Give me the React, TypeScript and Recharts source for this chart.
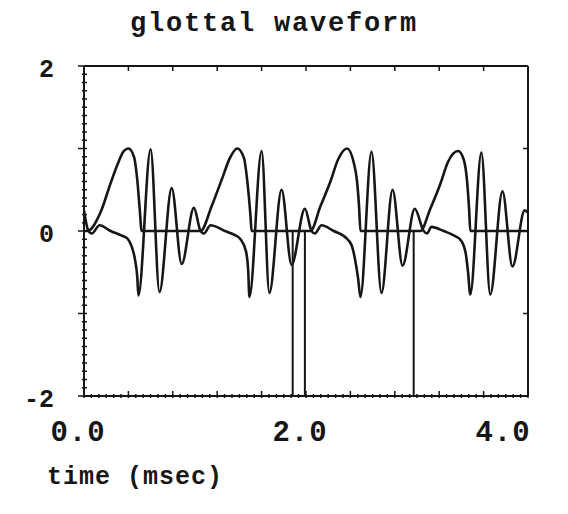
import { LineChart, Line, XAxis, YAxis } from "recharts";

const INK = "#161616";
const FONT = "'Liberation Mono', 'DejaVu Sans Mono', monospace";

// glottal flow pulse: [time ms, amplitude]
const flowPulse: [number, number][] = [
  [0, 0], [0.03, 0], [0.15, 0.23], [0.24, 0.58], [0.3, 0.8], [0.36, 0.97], [0.4, 1.0], [0.45, 0.9], [0.48, 0.62], [0.5, 0.3], [0.52, 0],
  [1.05, 0], [1.15, 0.3], [1.24, 0.62], [1.32, 0.9], [1.38, 1.0], [1.44, 0.89], [1.47, 0.62], [1.5, 0.18], [1.51, 0],
  [2.04, 0], [2.13, 0.3], [2.22, 0.6], [2.29, 0.87], [2.37, 1.0], [2.43, 0.83], [2.46, 0.6], [2.48, 0.25], [2.49, 0],
  [3.03, 0], [3.12, 0.27], [3.21, 0.57], [3.28, 0.84], [3.37, 0.97], [3.42, 0.87], [3.45, 0.62], [3.47, 0.25], [3.48, 0],
  [4.0, 0],
];

// derivative / ringing response
const ringing: [number, number][] = [
  [0, 0.25], [0.04, 0], [0.07, -0.03], [0.14, 0.07], [0.24, 0], [0.33, -0.05], [0.39, -0.09], [0.43, -0.19], [0.46, -0.35], [0.48, -0.56], [0.49, -0.78],
  [0.6, 0.99], [0.68, -0.74], [0.79, 0.52], [0.88, -0.4], [0.99, 0.28],
  [1.05, 0], [1.08, -0.03], [1.14, 0.07], [1.27, 0], [1.36, -0.05], [1.41, -0.1], [1.46, -0.25], [1.48, -0.5], [1.49, -0.8],
  [1.6, 0.97], [1.67, -0.75], [1.78, 0.5], [1.87, -0.41], [1.99, 0.27],
  [2.05, 0], [2.08, -0.03], [2.14, 0.07], [2.25, 0], [2.35, -0.07], [2.41, -0.17], [2.44, -0.33], [2.47, -0.58], [2.49, -0.8],
  [2.59, 0.96], [2.68, -0.75], [2.78, 0.5], [2.87, -0.42], [2.98, 0.27],
  [3.06, 0], [3.09, -0.03], [3.13, 0.05], [3.24, 0], [3.34, -0.06], [3.4, -0.12], [3.44, -0.28], [3.46, -0.5], [3.48, -0.77],
  [3.58, 0.95], [3.66, -0.77], [3.77, 0.48], [3.86, -0.43], [3.97, 0.25], [4.0, 0.22],
];

// plotter glitches: vertical strokes down to the bottom of the frame
const glitchTimes = [1.88, 1.99, 2.97];
const glitchFloor = -2;

const xLabelTicks = [0, 2, 4];
const yLabelTicks = [-2, 0, 2];
const topTicks = [0.4, 0.8, 1.2, 1.6, 2.0, 2.4, 2.8, 3.2, 3.6];
const rightTicks = [-1, 1];

const toPoints = (pairs: [number, number][]) => pairs.map(([t, v]) => ({ t, v }));
const flowData = toPoints(flowPulse);
const ringData = toPoints(ringing);
const glitchData = glitchTimes.flatMap((t) => [
  { t, v: 0 },
  { t, v: glitchFloor },
  { t: t + 0.001, v: null },
]);

// minor ticks: 15 per ms on x, 10 per unit on y
const bottomTicks = Array.from({ length: 61 }, (_, i) => i / 15);
const leftTicks = Array.from({ length: 41 }, (_, i) => -2 + i / 10);

const near = (a: number, b: number) => Math.abs(a - b) < 1e-6;

const BottomTick = (props: any) => {
  const { x, y, payload } = props;
  const v = payload.value;
  const major = topTicks.some((m) => near(m, v)) || near(v, 0) || near(v, 4);
  const label = xLabelTicks.find((m) => near(m, v));
  return (
    <g>
      <line x1={x} x2={x} y1={y - (major ? 5 : 2)} y2={y + 2} stroke={INK} strokeWidth={1.5} />
      {label !== undefined && (
        <text x={Math.min(x - 6, 503)} y={y + 45} textAnchor="middle" fontFamily={FONT} fontWeight="bold" fontSize={29} letterSpacing={1} fill={INK}>
          {label.toFixed(1)}
        </text>
      )}
    </g>
  );
};

const LeftTick = (props: any) => {
  const { x, y, payload } = props;
  const v = payload.value;
  const major = Number.isInteger(Math.round(v * 1e6) / 1e6);
  const label = yLabelTicks.find((m) => near(m, v));
  return (
    <g>
      <line x1={x - (major ? 6 : 2)} x2={x + 3} y1={y} y2={y} stroke={INK} strokeWidth={1.5} />
      {label !== undefined && (
        <text x={x - 30} y={y + 11} textAnchor="end" fontFamily={FONT} fontWeight="bold" fontSize={25} fill={INK}>
          {label}
        </text>
      )}
    </g>
  );
};

const TopTick = (props: any) => {
  const { x, y } = props;
  return <line x1={x} x2={x} y1={y} y2={y + 5} stroke={INK} strokeWidth={1.5} />;
};

const RightTick = (props: any) => {
  const { x, y } = props;
  return <line x1={x - 5} x2={x} y1={y} y2={y} stroke={INK} strokeWidth={1.5} />;
};

export default function App() {
  return (
    <div style={{ position: "absolute", left: 0, top: 0, width: 568, height: 514, background: "#fff" }}>
      <LineChart width={568} height={514} margin={{ top: 56, right: 30, bottom: 78, left: 44 }}>
        <XAxis
          xAxisId="b"
          type="number"
          dataKey="t"
          domain={[0, 4]}
          ticks={bottomTicks}
          interval={0}
          tickSize={0}
          tickMargin={0}
          tickLine={false}
          height={40}
          axisLine={{ stroke: INK, strokeWidth: 2 }}
          tick={BottomTick}
          allowDataOverflow
        />
        <XAxis
          xAxisId="top"
          orientation="top"
          type="number"
          dataKey="t"
          domain={[0, 4]}
          ticks={topTicks}
          interval={0}
          tickSize={0}
          tickMargin={0}
          tickLine={false}
          height={10}
          axisLine={{ stroke: INK, strokeWidth: 2 }}
          tick={TopTick}
          allowDataOverflow
        />
        <YAxis
          yAxisId="l"
          type="number"
          domain={[-2, 2]}
          ticks={leftTicks}
          interval={0}
          tickSize={0}
          tickMargin={0}
          tickLine={false}
          width={40}
          axisLine={{ stroke: INK, strokeWidth: 2 }}
          tick={LeftTick}
          allowDataOverflow
        />
        <YAxis
          yAxisId="r"
          orientation="right"
          type="number"
          domain={[-2, 2]}
          ticks={rightTicks}
          interval={0}
          tickSize={0}
          tickMargin={0}
          tickLine={false}
          width={10}
          axisLine={{ stroke: INK, strokeWidth: 2 }}
          tick={RightTick}
          allowDataOverflow
        />
        <Line xAxisId="b" yAxisId="l" data={flowData} dataKey="v" type="monotone" stroke={INK} strokeWidth={2.6} dot={false} isAnimationActive={false} />
        <Line xAxisId="b" yAxisId="l" data={ringData} dataKey="v" type="monotone" stroke={INK} strokeWidth={2.6} dot={false} isAnimationActive={false} />
        <Line xAxisId="b" yAxisId="l" data={glitchData} dataKey="v" type="linear" stroke={INK} strokeWidth={2} dot={false} connectNulls={false} isAnimationActive={false} />
      </LineChart>
      <svg width={568} height={514} style={{ position: "absolute", left: 0, top: 0, pointerEvents: "none" }}>
        <text x={274} y={31} textAnchor="middle" fontFamily={FONT} fontWeight="bold" fontSize={27} letterSpacing={1.8} fill={INK}>
          glottal waveform
        </text>
        <text x={47} y={484} fontFamily={FONT} fontWeight="bold" fontSize={25} letterSpacing={1} fill={INK}>
          time (msec)
        </text>
      </svg>
    </div>
  );
}
